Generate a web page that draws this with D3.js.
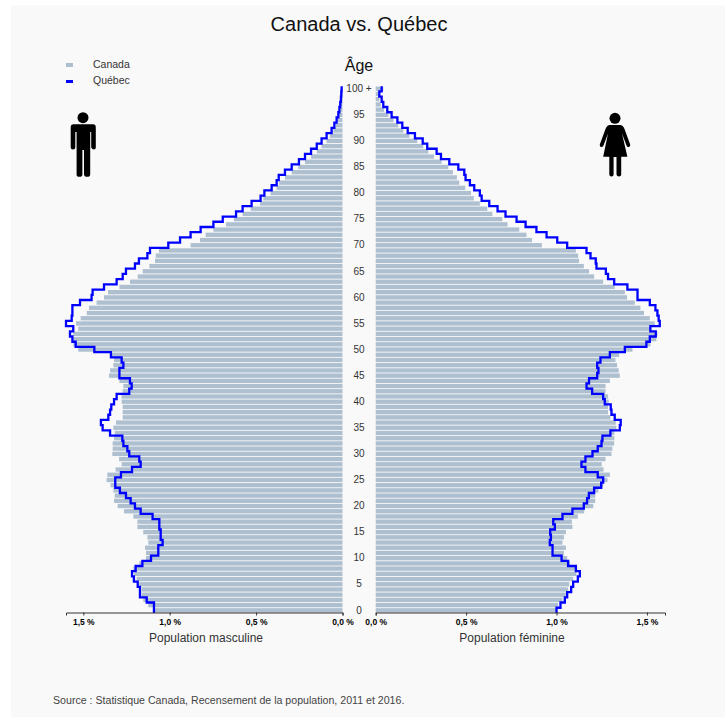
<!DOCTYPE html>
<html>
<head>
<meta charset="utf-8">
<script src="https://cdn.jsdelivr.net/npm/d3@7"></script>
<style>
  html, body { margin: 0; padding: 0; background: #fff; }
  svg { display: block; font-family: "Liberation Sans", Arial, sans-serif; }
</style>
</head>
<body>
<svg id="chart" width="725" height="717"></svg>
<script>
const ages = d3.range(0, 101);
const ageTicks = d3.range(0, 101, 5);
const pctTicks = [0, 0.5, 1, 1.5];

// share of population by single year of age (0 to 100+), in %
const maleCanada = [1.091,1.124,1.153,1.162,1.162,1.176,1.191,1.205,1.210,1.176,1.137,1.137,1.143,1.124,1.129,1.153,1.187,1.187,1.210,1.264,
  1.301,1.322,1.318,1.326,1.342,1.365,1.361,1.313,1.278,1.293,1.332,1.330,1.330,1.322,1.318,1.326,1.311,1.272,1.272,1.272,
  1.278,1.278,1.272,1.268,1.291,1.351,1.345,1.326,1.322,1.336,1.529,1.558,1.563,1.558,1.529,1.542,1.515,1.480,1.467,1.423,
  1.380,1.357,1.291,1.230,1.185,1.156,1.118,1.085,1.081,1.062,.879,.825,.792,.747,.674,.628,.578,.531,.477,.458,
  .416,.381,.366,.333,.294,.256,.217,.182,.149,.121,.092,.072,.053,.038,.026,.018,.013,.009,.007,.005,.003];
const maleQuebec = [1.091,1.091,1.133,1.172,1.172,1.185,1.207,1.218,1.197,1.158,1.108,1.066,1.066,1.041,1.052,1.052,1.060,1.060,1.099,1.168,
  1.201,1.226,1.253,1.288,1.315,1.315,1.282,1.218,1.168,1.176,1.234,1.245,1.268,1.274,1.345,1.388,1.398,1.355,1.345,1.338,
  1.322,1.307,1.234,1.220,1.230,1.291,1.291,1.268,1.278,1.340,1.436,1.544,1.563,1.577,1.558,1.600,1.567,1.563,1.563,1.519,
  1.452,1.446,1.380,1.307,1.272,1.253,1.201,1.178,1.129,1.114,1.008,.940,.879,.821,.747,.693,.616,.578,.526,.474,
  .452,.410,.381,.369,.333,.294,.252,.217,.182,.149,.121,.092,.063,.047,.034,.024,.018,.013,.009,.007,.005];
const femaleCanada = [1.000,1.009,1.033,1.052,1.064,1.070,1.092,1.110,1.115,1.075,1.059,1.041,1.052,1.033,1.041,1.052,1.088,1.085,1.118,1.153,
  1.203,1.214,1.214,1.232,1.258,1.282,1.295,1.260,1.250,1.271,1.304,1.309,1.319,1.320,1.320,1.331,1.328,1.298,1.285,1.285,
  1.289,1.285,1.271,1.271,1.295,1.350,1.344,1.335,1.326,1.346,1.420,1.519,1.552,1.558,1.516,1.543,1.516,1.484,1.464,1.433,
  1.390,1.378,1.322,1.258,1.208,1.180,1.151,1.125,1.120,1.107,.919,.864,.834,.794,.729,.700,.645,.617,.576,.543,
  .527,.495,.462,.449,.427,.401,.365,.322,.291,.263,.230,.186,.153,.125,.098,.070,.046,.028,.020,.015,.042];
const femaleQuebec = [1.000,1.022,1.046,1.059,1.081,1.092,1.118,1.129,1.107,1.064,1.028,.978,.978,.963,.969,.965,.991,.982,1.033,1.088,
  1.151,1.169,1.179,1.208,1.247,1.258,1.228,1.160,1.138,1.160,1.199,1.228,1.249,1.254,1.298,1.350,1.355,1.322,1.304,1.300,
  1.267,1.258,1.197,1.166,1.180,1.225,1.232,1.225,1.243,1.295,1.378,1.497,1.516,1.549,1.519,1.571,1.565,1.558,1.547,1.516,
  1.448,1.448,1.392,1.319,1.285,1.273,1.221,1.217,1.188,1.166,1.059,1.004,.945,.889,.829,.779,.718,.674,.628,.586,
  .576,.545,.521,.497,.490,.457,.407,.361,.337,.285,.260,.217,.177,.147,.120,.088,.064,.042,.033,.020,.033];

const legendItems = ["Canada", "Québec"];
const legendColors = ["#aebfd0", "#0000ff"];

const svg = d3.select("#chart");

svg.append("rect").attr("x", 11).attr("y", 5).attr("width", 714).attr("height", 712).attr("fill", "#f9f9f9");

const y = d3.scaleBand().domain(ages).range([612.5, 86.6]).paddingInner(0.17);
const xLeft = d3.scaleLinear().domain([0, 1.6]).range([342.5, 66]);
const xRight = d3.scaleLinear().domain([0, 1.6]).range([375.7, 665]);

const pctFormat = (d) => d3.format(".1f")(d).replace(".", ",") + " %";

function drawSide(x, canada, quebec) {
    const base = x(0);

    svg.append("g").selectAll("rect").data(ages).enter().append("rect")
        .attr("x", (d) => Math.min(base, x(canada[d])))
        .attr("y", (d) => y(d))
        .attr("width", (d) => Math.abs(x(canada[d]) - base))
        .attr("height", y.bandwidth())
        .attr("fill", "#aebfd0");

    // step outline, one flat segment per year of age
    const step = y.step();
    const pts = [];
    ages.forEach((a) => {
        const top = y(a) + y.bandwidth() / 2;
        pts.push([x(quebec[a]), top + step / 2]);
        pts.push([x(quebec[a]), top - step / 2]);
    });
    svg.append("path")
        .attr("d", d3.line()(pts))
        .attr("fill", "none")
        .attr("stroke", "#0000ff")
        .attr("stroke-width", 2.3);

    const axis = svg.append("g")
        .attr("transform", "translate(0,612.5)")
        .call(d3.axisBottom(x).tickValues(pctTicks).tickFormat(pctFormat).tickSize(3).tickPadding(3));
    axis.select(".domain").attr("stroke", "#333").attr("stroke-width", 1);
    axis.selectAll(".tick line").attr("stroke", "#333");
    axis.selectAll(".tick text")
        .attr("font-family", "'Liberation Sans', Arial, sans-serif")
        .attr("font-size", 8.5)
        .attr("font-weight", "bold")
        .attr("fill", "#000");
}

drawSide(xLeft, maleCanada, maleQuebec);
drawSide(xRight, femaleCanada, femaleQuebec);

// age labels in the middle gap
const ageAxis = svg.append("g")
    .attr("transform", "translate(359,0)")
    .call(d3.axisRight(y).tickValues(ageTicks).tickFormat((d) => (d === 100 ? "100 +" : d)).tickSize(0).tickPadding(0));
ageAxis.select(".domain").remove();
ageAxis.selectAll(".tick text")
    .attr("text-anchor", "middle")
    .attr("font-family", "'Liberation Sans', Arial, sans-serif")
    .attr("font-size", 10)
    .attr("fill", "#333");

const text = (x, yy, str, size, anchor, fill) =>
    svg.append("text").attr("x", x).attr("y", yy).attr("font-size", size)
        .attr("text-anchor", anchor).attr("fill", fill).text(str);

text(359, 31, "Canada vs. Québec", 20, "middle", "#111");
text(359, 71, "Âge", 16, "middle", "#111");
text(206, 642, "Population masculine", 12, "middle", "#333");
text(512, 642, "Population féminine", 12, "middle", "#333");
text(53, 704, "Source : Statistique Canada, Recensement de la population, 2011 et 2016.", 10.62, "start", "#444");

// legend
legendItems.forEach((name, i) => {
    const ly = 64.5 + i * 16;
    svg.append("rect").attr("x", 66).attr("y", ly - 1.5 + i).attr("width", 7).attr("height", i ? 3 : 4).attr("fill", legendColors[i]);
    text(93, ly + 3.5, name, 10.5, "start", "#333");
});

// pictograms
const man = svg.append("g").attr("fill", "#000");
man.append("circle").attr("cx", 83).attr("cy", 117.7).attr("r", 5.5);
man.append("path").attr("d", "M73.5 124.3H93Q95.8 124.3 95.8 127.5V147.5Q95.8 149.5 94 149.5T91.2 147.5V132H90.2V174.5Q90.2 176.8 87.2 176.8T84 174.5V150H82.4V174.5Q82.4 176.8 79.4 176.8T76.6 174.5V132H75.3V147.5Q75.3 149.5 73 149.5T70.7 147.5V127.5Q70.7 124.3 73.5 124.3Z");

const woman = svg.append("g").attr("fill", "#000");
woman.append("circle").attr("cx", 615).attr("cy", 118.3).attr("r", 5.5);
woman.append("path").attr("d", "M610 125H620Q623 125 624.5 129L630.2 144.5Q630.5 146.8 628.8 147T626.5 145.5L622 133.5L627.4 156.7H621.2V174.5Q621.2 176.5 619 176.5T616.5 174.5V157H613.6V174.5Q613.6 176.5 611.5 176.5T609.3 174.5V156.7H603.2L608 133.5L603.5 145.5Q602.5 147.3 601 147T599.8 144.5L605.5 129Q607 125 610 125Z");
</script>
</body>
</html>
